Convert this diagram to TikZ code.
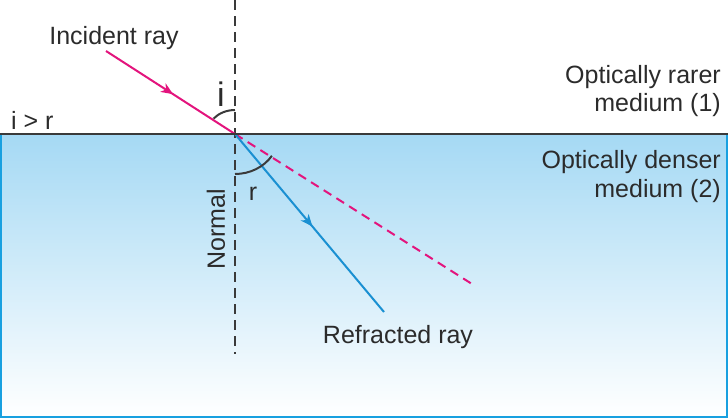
\documentclass[tikz,border=0pt]{standalone}
\usepackage{fontspec}
\setmainfont{Liberation Sans}
\usetikzlibrary{arrows.meta,decorations.markings}
\definecolor{pinkray}{HTML}{E3147D}
\definecolor{blueray}{HTML}{1A90D2}
\definecolor{txt}{HTML}{2B2B2B}
\definecolor{topblue}{HTML}{A5D9F4}
\definecolor{edgeblue}{HTML}{18A0E0}
\definecolor{surface}{HTML}{3A3A3A}
\begin{document}
\begin{tikzpicture}[x=1pt,y=-1pt,
  font=\fontsize{25}{28.5}\selectfont,
  lbl/.style={inner sep=0pt, text=txt},
  midarrow/.style={postaction={decorate}, decoration={markings,
     mark=at position #1 with {\arrow{Stealth[length=12pt,width=10pt,inset=3.5pt]}}}},
  normalline/.style={surface, line width=2pt, dash pattern=on 10pt off 6pt},
  extline/.style={pinkray, line width=2pt, dash pattern=on 9pt off 6pt},
  anglearc/.style={surface, line width=2pt}]
\useasboundingbox (0,0) rectangle (728,418);
% denser medium
\shade[top color=topblue, bottom color=white] (1,134) rectangle (727,417);
\draw[edgeblue, line width=2.2pt] (1,134) -- (1,417) -- (727,417) -- (727,134);
% coordinates
\coordinate (O) at (235,134);
\coordinate (A) at (106,51);
\coordinate (B) at (384,312);
\coordinate (C) at (472,284);
\coordinate (N1) at (235,0);
\coordinate (N2) at (235,354);
\coordinate (SL) at (0,134);
\coordinate (SR) at (728,134);
% normal
\draw[normalline] (N1) -- (N2);
% extension of incident ray
\draw[extline] (O) -- (C);
% rays
\draw[pinkray, line width=2pt, midarrow=0.52] (A) -- (O);
\draw[blueray, line width=2pt, midarrow=0.52] (O) -- (B);
% surface
\draw[surface, line width=2.4pt] (SL) -- (SR);
% angle arcs
\draw[anglearc] (O) ++(-90:24) arc[start angle=-90, end angle=-140, x radius=28, y radius=24];
\draw[anglearc] (O) ++(90:40) arc[start angle=90, end angle=33, x radius=44, y radius=40];
% labels
\node[lbl, anchor=base] (inc) at (114,44.3) {Incident ray};
\node[lbl, anchor=base west] (cmp) at (11,129) {i > r};
\node[lbl, font=\fontsize{34}{36}\selectfont, anchor=base] (ilab) at (221,106) {i};
\node[lbl, anchor=base] (rlab) at (253,200) {r};
\node[lbl, rotate=90, anchor=center] (norm) at (216,229) {Normal};
\node[lbl, anchor=base] (refr) at (398,343) {Refracted ray};
\node[lbl, anchor=base east] (rar1) at (721,83.3) {Optically rarer};
\node[lbl, anchor=base east] (rar2) at (721,111.7) {medium (1)};
\node[lbl, anchor=base east] (den1) at (721,168) {Optically denser};
\node[lbl, anchor=base east] (den2) at (721,197) {medium (2)};
\end{tikzpicture}
\end{document}
